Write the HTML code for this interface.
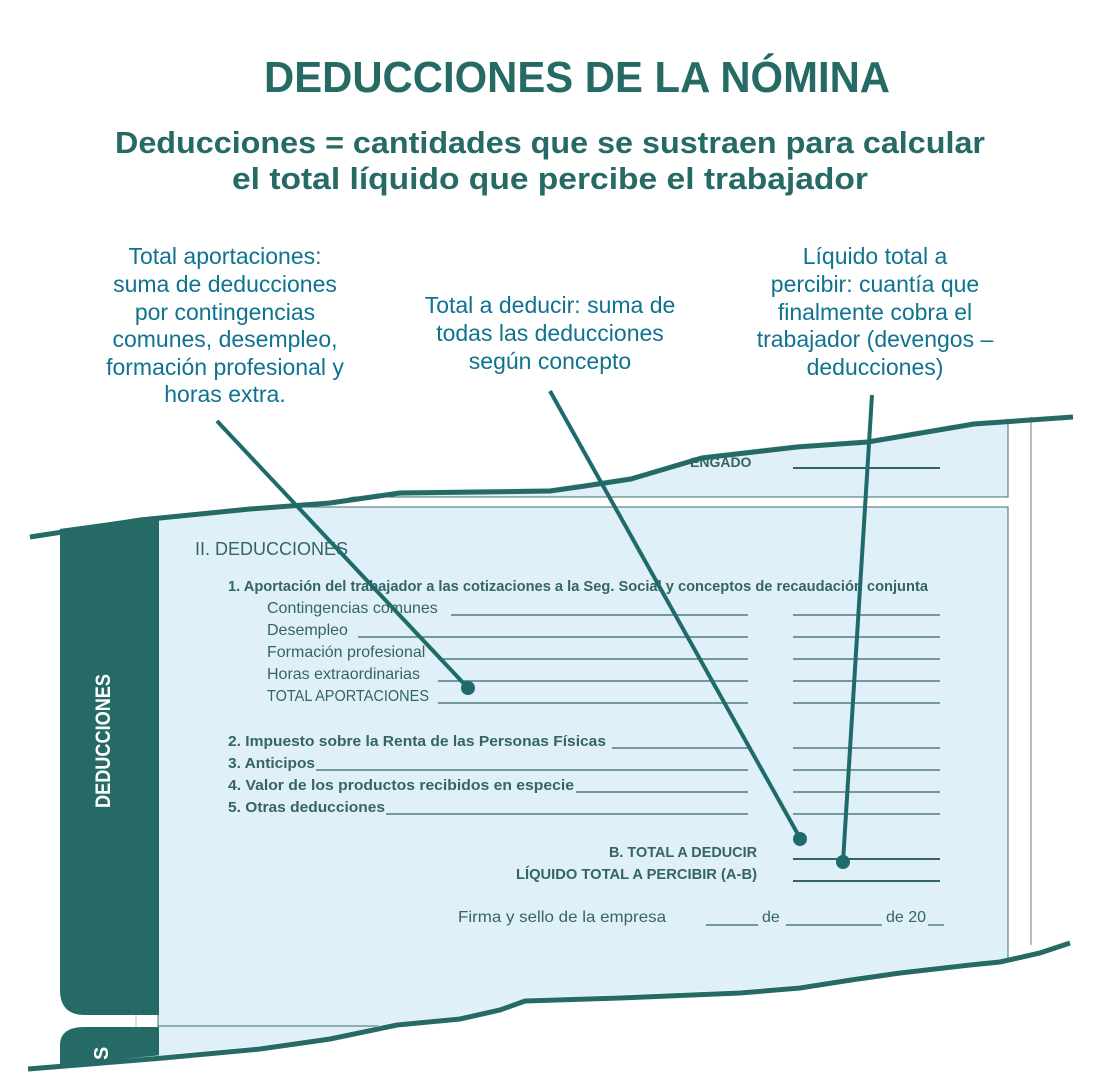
<!DOCTYPE html>
<html><head><meta charset="utf-8"><style>
html,body{margin:0;padding:0;background:#fff;}
svg{display:block;}
</style></head><body>
<svg width="1101" height="1089" viewBox="0 0 1101 1089" xmlns="http://www.w3.org/2000/svg" font-family="Liberation Sans, sans-serif">
<!-- paper -->
<line x1="1031" y1="415" x2="1031" y2="945" stroke="#bbbbbb" stroke-width="2"/>
<rect x="150" y="405" width="858" height="92" fill="#dff0f8" stroke="#3a6f6d" stroke-width="1"/>
<rect x="158" y="507" width="850" height="520" fill="#dff0f8" stroke="#3a6f6d" stroke-width="1"/>
<path d="M60 515 H159 V1015 H85 Q60 1015 60 990 Z" fill="#266a66"/>
<line x1="136" y1="1015" x2="136" y2="1027" stroke="#bbb" stroke-width="1"/>
<rect x="158" y="1026" width="850" height="60" fill="#dff0f8" stroke="#3a6f6d" stroke-width="1"/>
<path d="M60 1045 Q60 1027 85 1027 H159 V1089 H60 Z" fill="#266a66"/>
<text transform="translate(108,1060) rotate(-90)" font-size="20" font-weight="bold" fill="#fff">S</text>
<text transform="translate(110,808) rotate(-90)" font-size="21" font-weight="bold" fill="#fff" textLength="134" lengthAdjust="spacingAndGlyphs">DEDUCCIONES</text>

<!-- form text -->
<g fill="#356563">
<text x="690" y="467" font-size="14" font-weight="bold">ENGADO</text>
<text x="195" y="555" font-size="18">II. DEDUCCIONES</text>
<text x="228" y="591" font-size="15" font-weight="bold" textLength="700" lengthAdjust="spacingAndGlyphs">1. Aportación del trabajador a las cotizaciones a la Seg. Social y conceptos de recaudación conjunta</text>
<g font-size="16">
<text x="267" y="613">Contingencias comunes</text>
<text x="267" y="635">Desempleo</text>
<text x="267" y="657">Formación profesional</text>
<text x="267" y="679">Horas extraordinarias</text>
<text x="267" y="701" textLength="162" lengthAdjust="spacingAndGlyphs">TOTAL APORTACIONES</text>
</g>
<g font-size="15" font-weight="bold">
<text x="228" y="746" textLength="378" lengthAdjust="spacingAndGlyphs">2. Impuesto sobre la Renta de las Personas Físicas</text>
<text x="228" y="768" textLength="87" lengthAdjust="spacingAndGlyphs">3. Anticipos</text>
<text x="228" y="790" textLength="346" lengthAdjust="spacingAndGlyphs">4. Valor de los productos recibidos en especie</text>
<text x="228" y="812" textLength="157" lengthAdjust="spacingAndGlyphs">5. Otras deducciones</text>
<text x="757" y="857" text-anchor="end" textLength="148" lengthAdjust="spacingAndGlyphs">B. TOTAL A DEDUCIR</text>
<text x="757" y="879" text-anchor="end" textLength="241" lengthAdjust="spacingAndGlyphs">LÍQUIDO TOTAL A PERCIBIR (A-B)</text>
</g>
<text x="458" y="922" font-size="16" textLength="208" lengthAdjust="spacingAndGlyphs">Firma y sello de la empresa</text>
<text x="762" y="922" font-size="16">de</text>
<text x="886" y="922" font-size="16">de 20</text>
</g>
<g stroke="#356563" stroke-width="1.2">
<line x1="793" y1="468" x2="940" y2="468" stroke-width="2"/>
<line x1="451" y1="615" x2="748" y2="615"/><line x1="793" y1="615" x2="940" y2="615"/>
<line x1="358" y1="637" x2="748" y2="637"/><line x1="793" y1="637" x2="940" y2="637"/>
<line x1="438" y1="659" x2="748" y2="659"/><line x1="793" y1="659" x2="940" y2="659"/>
<line x1="438" y1="681" x2="748" y2="681"/><line x1="793" y1="681" x2="940" y2="681"/>
<line x1="438" y1="703" x2="748" y2="703"/><line x1="793" y1="703" x2="940" y2="703"/>
<line x1="612" y1="748" x2="748" y2="748"/><line x1="793" y1="748" x2="940" y2="748"/>
<line x1="316" y1="770" x2="748" y2="770"/><line x1="793" y1="770" x2="940" y2="770"/>
<line x1="576" y1="792" x2="748" y2="792"/><line x1="793" y1="792" x2="940" y2="792"/>
<line x1="386" y1="814" x2="748" y2="814"/><line x1="793" y1="814" x2="940" y2="814"/>
<line x1="793" y1="859" x2="940" y2="859" stroke-width="2"/>
<line x1="793" y1="881" x2="940" y2="881" stroke-width="2"/>
<line x1="706" y1="925" x2="758" y2="925"/>
<line x1="786" y1="925" x2="882" y2="925"/>
<line x1="928" y1="925" x2="944" y2="925"/>
</g>

<!-- torn top -->
<path d="M0 0 H1101 V413 L1073 414 L974 421 L868 439 L797 444 L702 455 L631 476 L585 483 L550 488 L480 489 L400 490 L330 500 L250 507 L140 518 L30 533 L0 540 Z" fill="#fff"/>
<path d="M30 537 L140 520 L250 509 L330 503 L400 493 L480 492 L550 491 L585 486 L631 479 L702 458 L797 447 L868 442 L974 424 L1073 417" fill="none" stroke="#266a66" stroke-width="5"/>
<!-- torn bottom -->
<path d="M1070 940 L1040 950 L1000 960 L970 962 L900 970 L851 977 L800 985 L740 990 L620 995 L525 998 L500 1007 L460 1016 L397 1022 L330 1036 L260 1046 L163 1055 L90 1062 L28 1068 L0 1070 V1089 H1101 V940 Z" fill="#fff"/>
<path d="M1070 943 L1040 953 L1000 962 L970 965 L900 973 L851 980 L800 988 L740 993 L620 998 L525 1001 L500 1010 L460 1019 L397 1025 L330 1039 L260 1049 L163 1058 L90 1064 L28 1069" fill="none" stroke="#266a66" stroke-width="5"/>

<!-- Title -->
<text x="577" y="92" text-anchor="middle" font-size="44" font-weight="bold" fill="#266a66" textLength="626" lengthAdjust="spacingAndGlyphs">DEDUCCIONES DE LA NÓMINA</text>
<text x="550" y="153" text-anchor="middle" font-size="31" font-weight="bold" fill="#266a66" textLength="870" lengthAdjust="spacingAndGlyphs">Deducciones = cantidades que se sustraen para calcular</text>
<text x="550" y="189" text-anchor="middle" font-size="31" font-weight="bold" fill="#266a66" textLength="636" lengthAdjust="spacingAndGlyphs">el total líquido que percibe el trabajador</text>

<!-- annotations -->
<g fill="#0f7390" font-size="23" text-anchor="middle">
<text x="225" y="264">Total aportaciones:</text>
<text x="225" y="292">suma de deducciones</text>
<text x="225" y="320">por contingencias</text>
<text x="225" y="347">comunes, desempleo,</text>
<text x="225" y="375">formación profesional y</text>
<text x="225" y="402">horas extra.</text>
<text x="550" y="313">Total a deducir: suma de</text>
<text x="550" y="341">todas las deducciones</text>
<text x="550" y="369">según concepto</text>
<text x="875" y="264">Líquido total a</text>
<text x="875" y="292">percibir: cuantía que</text>
<text x="875" y="320">finalmente cobra el</text>
<text x="875" y="347">trabajador (devengos –</text>
<text x="875" y="375">deducciones)</text>
</g>

<!-- connectors -->
<g stroke="#1f6b6b" stroke-width="4" fill="none">
<line x1="217" y1="421" x2="468" y2="688"/>
<line x1="550" y1="391" x2="800" y2="838"/>
<line x1="872" y1="395" x2="843" y2="862"/>
</g>
<g fill="#1f6b6b">
<circle cx="468" cy="688" r="7"/>
<circle cx="800" cy="839" r="7"/>
<circle cx="843" cy="862" r="7"/>
</g>
</svg>
</body></html>
